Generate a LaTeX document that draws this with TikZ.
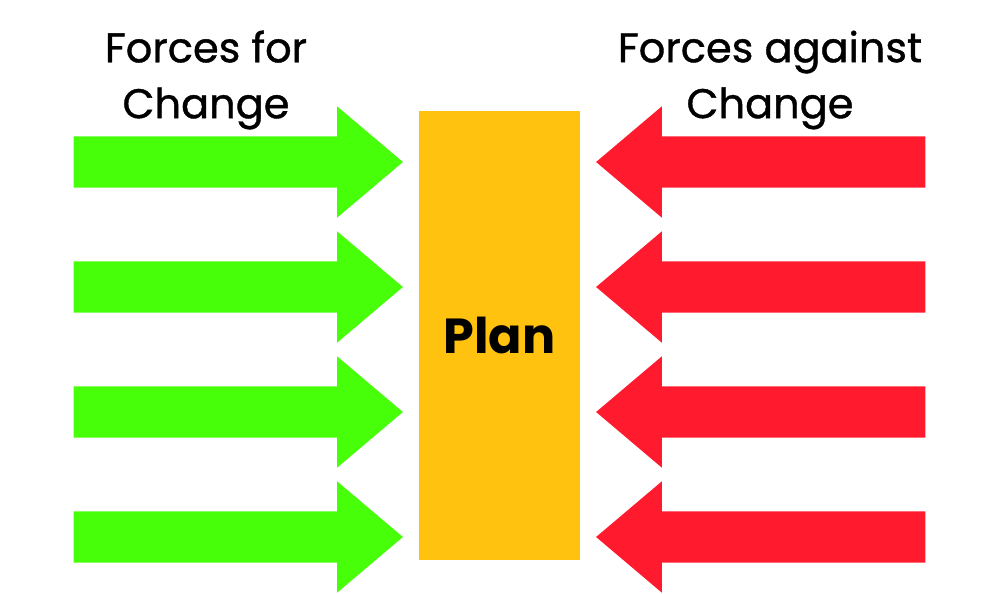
\documentclass[tikz,border=0pt]{standalone}
\usepackage{fontspec}
\setmainfont{Poppins}
\newfontfamily\headfont[FakeBold=0.9]{Poppins}
\usepackage{xcolor}
\usepackage{tikz}
\usetikzlibrary{positioning,shapes.arrows}
\definecolor{forc}{RGB}{72,255,10}
\definecolor{againstc}{RGB}{255,26,46}
\definecolor{planc}{RGB}{255,194,14}
\tikzset{
  pushfor/.style     = {single arrow, draw=none, fill=forc, inner sep=0pt,
                        inner ysep=0.25cm, minimum height=3.29cm,
                        single arrow head extend=0.3cm, single arrow tip angle=80.5,
                        anchor=tip},
  pushagainst/.style = {pushfor, fill=againstc, shape border rotate=180},
  planbox/.style     = {rectangle, fill=planc, minimum width=1.61cm, minimum height=4.49cm,
                        inner sep=0pt, font=\fontsize{14}{17}\selectfont\bfseries},
  heading/.style     = {align=center, inner sep=0pt, font=\headfont\fontsize{11.8}{15.9}\selectfont},
}
\begin{document}
\begin{tikzpicture}[x=0.01cm, y=-0.01cm]
\useasboundingbox (0,0) rectangle (1000,594);

\node[planbox] (plan) at (499.5,335.5) {Plan};

\foreach \y [count=\i] in {162,287,412,537} {
  \node[pushfor] (for\i) at (404,\y) {};
  \node[pushagainst] (against\i) at (595,\y) {};
}

\node[heading] (fortitle) at (206,80) {Forces for\\Change};
\node[heading] (againsttitle) at (770,80) {Forces against\\Change};

\end{tikzpicture}
\end{document}
